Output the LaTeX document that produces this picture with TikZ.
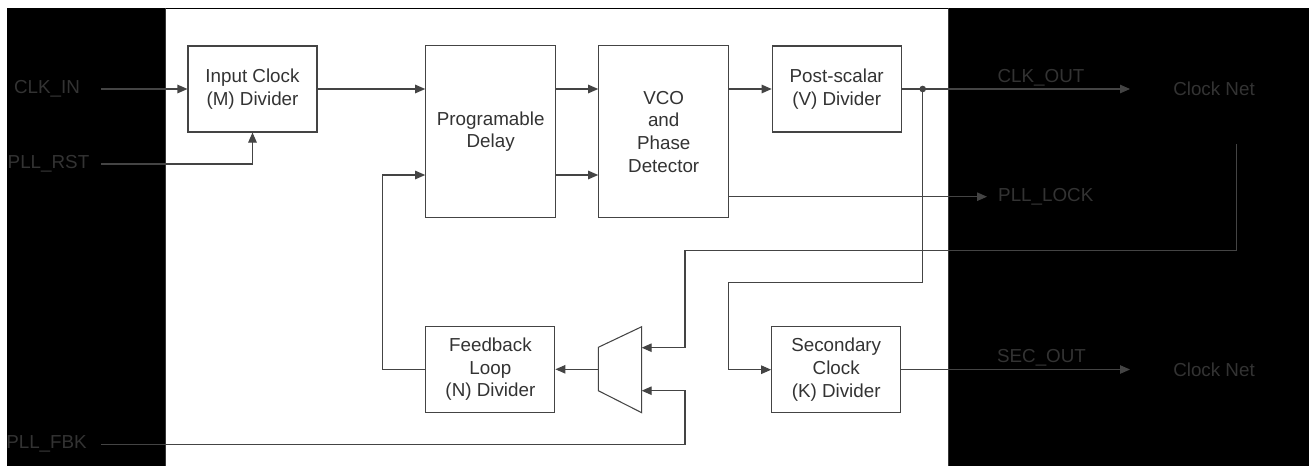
\documentclass[tikz,border=0pt]{standalone}
\usepackage{fontspec}
\setmainfont{Liberation Sans}
\usetikzlibrary{arrows.meta}
\definecolor{ln}{HTML}{444444}
\definecolor{tx}{HTML}{333333}
\tikzset{
  blk/.style={draw=ln, line width=1.05pt, fill=white, inner sep=0pt, align=center,
    text=tx, font=\fontsize{18.8}{22.7}\selectfont},
  lbl/.style={inner sep=0pt, text=tx, font=\fontsize{18.8}{22.7}\selectfont},
  wire/.style={draw=ln, line width=1.05pt},
  arr/.style={wire, -{Triangle[length=10pt,width=8.5pt]}},
}
\begin{document}
\begin{tikzpicture}[x=1pt,y=-1pt]
\useasboundingbox (0,0) rectangle (1309,466);
\fill[white] (0,0) rectangle (1309,466);
% panels
\fill[black] (7,8) rectangle (166,466);
\fill[black] (948,8) rectangle (1309,466);
\draw[black, line width=1.5pt] (166,8.5) -- (948,8.5);
\draw[ln!80!black, line width=1pt] (165.5,8) -- (165.5,466);
\draw[ln!80!black, line width=1pt] (948.5,8) -- (948.5,466);

% blocks
\node[blk, minimum width=129pt, minimum height=86pt] (inclk) at (252.5,89) {Input Clock\\(M) Divider};
\node[blk, minimum width=130pt, minimum height=172pt] (delay) at (490.7,131.7) {Programable\\Delay};
\node[blk, minimum width=130pt, minimum height=172pt] (vco) at (663.7,131.7) {VCO\\and\\Phase\\Detector};
\node[blk, minimum width=129pt, minimum height=86pt] (post) at (836.7,89) {Post-scalar\\(V) Divider};
\node[blk, minimum width=129pt, minimum height=86pt] (fb) at (490.4,369.3) {Feedback\\Loop\\(N) Divider};
\node[blk, minimum width=129pt, minimum height=86pt] (sec) at (836.2,369.7) {Secondary\\Clock\\(K) Divider};

% mux
\coordinate (mtl) at (598.3,347.3);
\coordinate (mtr) at (641.7,326.7);
\coordinate (mbr) at (641.7,412.7);
\coordinate (mbl) at (598.3,390.7);
\draw[wire, line join=miter] (mtl) -- (mtr) -- (mbr) -- (mbl) -- cycle;
\coordinate (muxout) at (598.3,369.3);
\coordinate (muxin1) at (641.7,347.7);
\coordinate (muxin2) at (641.7,390.7);

% labels
\node[lbl] (clkin) at (47,89) {CLK\_IN};
\node[lbl] (pllrst) at (48.5,164) {PLL\_RST};
\node[lbl] (pllfbk) at (46.5,444) {PLL\_FBK};
\node[lbl] (clkout) at (1041,78) {CLK\_OUT};
\node[lbl] (secout) at (1041.5,358) {SEC\_OUT};
\node[lbl, anchor=west] (plllock) at (998,196.7) {PLL\_LOCK};
\node[lbl] (net1) at (1214,89) {Clock Net};
\node[lbl] (net2) at (1214,369.5) {Clock Net};

% free ends
\coordinate (clkinS) at (101,89);
\coordinate (rstS) at (101,164);
\coordinate (fbkS) at (101,444.3);
\coordinate (clkoutE) at (1130,89);
\coordinate (secoutE) at (1130,369.5);
\coordinate (lockE) at (987,196.7);
\coordinate (netfbS) at (1236.7,144);
\coordinate (dot) at (922.7,89);

% connectors
\draw[arr] (clkinS) -- (inclk.west);
\draw[arr] (rstS) -| (inclk.south);
\draw[arr] (inclk.east) -- (delay.west |- inclk.east);
\draw[arr] (delay.east |- 0,89) -- (vco.west |- 0,89);
\draw[arr] (delay.east |- 0,175) -- (vco.west |- 0,175);
\draw[arr] (vco.east |- post.west) -- (post.west);
\draw[arr] (post.east) -- (clkoutE);
\draw[arr] (vco.east |- lockE) -- (lockE);
\draw[arr] (sec.east |- secoutE) -- (secoutE);
\fill[ln] (dot) circle (3.3pt);
\draw[arr] (dot) -- (922.7,282.7) -- (728.3,282.7) |- (sec.west);
\draw[arr] (netfbS) -- (1236.7,250.7) -- (685,250.7) |- (muxin1);
\draw[arr] (fbkS) -- (685,444.3) |- (muxin2);
\draw[arr] (muxout) -- (fb.east |- muxout);
\draw[arr] (fb.west |- muxout) -- (382.3,369.3) |- (delay.west |- 0,175);
\end{tikzpicture}
\end{document}
